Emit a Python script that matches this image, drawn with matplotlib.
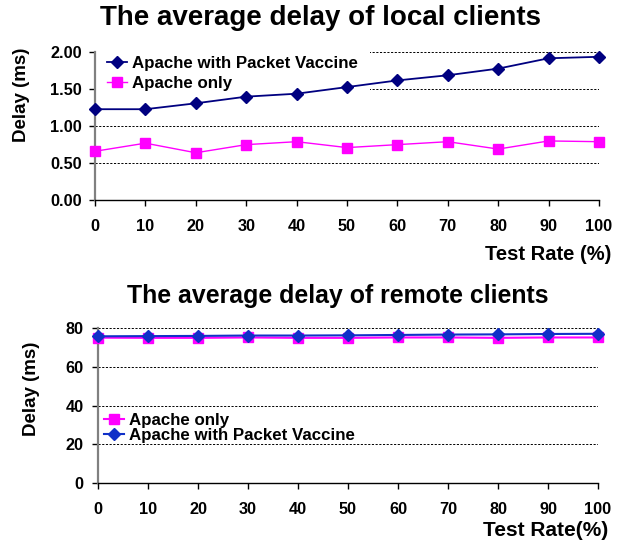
"""Average delay of local and remote clients, Apache vs Apache + Packet Vaccine."""
import matplotlib

matplotlib.use("Agg")
import matplotlib.pyplot as plt  # noqa: E402

plt.rcParams["font.family"] = ["Liberation Sans", "DejaVu Sans"]
plt.rcParams["font.weight"] = "bold"

W, H = 621, 543

test_rate = [0, 10, 20, 30, 40, 50, 60, 70, 80, 90, 100]

local_vaccine = [1.23, 1.23, 1.31, 1.40, 1.44, 1.53, 1.62, 1.69, 1.78, 1.92, 1.94]
local_apache = [0.66, 0.77, 0.64, 0.75, 0.79, 0.71, 0.75, 0.79, 0.69, 0.80, 0.79]
local_ticks = [0.0, 0.5, 1.0, 1.5, 2.0]

remote_vaccine = [75.9, 76.0, 76.1, 76.3, 76.3, 76.4, 76.6, 76.8, 76.9, 77.1, 77.2]
remote_apache = [75.2, 75.1, 75.1, 75.3, 75.1, 75.1, 75.3, 75.3, 75.1, 75.3, 75.3]
remote_ticks = [0, 20, 40, 60, 80]


def fx(px):
    return px / W


def fy(py):
    return 1 - py / H


def style_axes(ax, yticks, ylim_top, xpad, ypad):
    ax.set_xlim(0, 100)
    ax.set_ylim(0, ylim_top)
    ax.set_xticks(test_rate)
    ax.set_yticks(yticks)
    ax.spines["top"].set_visible(False)
    ax.spines["right"].set_visible(False)
    ax.spines["left"].set_color("#808080")
    ax.spines["left"].set_linewidth(1.6)
    ax.spines["bottom"].set_color("black")
    ax.spines["bottom"].set_linewidth(1.0)
    ax.tick_params(axis="x", length=4, width=1, pad=xpad, labelsize=11.7)
    ax.tick_params(axis="y", length=4, width=1, pad=ypad, labelsize=11.7)
    ax.set_axisbelow(True)
    ax.yaxis.grid(True, color="black", linestyle=(0, (2.2, 1.6)), linewidth=0.7)
    for lbl in ax.get_xticklabels() + ax.get_yticklabels():
        lbl.set_fontweight("bold")


fig = plt.figure(figsize=(W / 100, H / 100), dpi=100)

# top: local clients
ax1 = fig.add_axes([fx(95), fy(200), fx(599) - fx(95), fy(52) - fy(200)])
ax1.plot(test_rate, local_vaccine, color="#000080", lw=1.3, marker="D", ms=6,
         label="Apache with Packet Vaccine", clip_on=False, zorder=3)
ax1.plot(test_rate, local_apache, color="#FF00FF", lw=1.0, marker="s", ms=7,
         label="Apache only", clip_on=False, zorder=3)
style_axes(ax1, local_ticks, 2.005, 9.5, 5.5)
ax1.set_yticklabels([f"{v:.2f}" for v in local_ticks])
leg1 = ax1.legend(loc="upper left", bbox_to_anchor=(fx(95), fy(44)),
                  bbox_transform=fig.transFigure, fontsize=12.2, frameon=True,
                  fancybox=False, edgecolor="none", facecolor="white",
                  framealpha=1, borderpad=0.7, borderaxespad=0,
                  handlelength=1.2, handletextpad=0.3, labelspacing=0.3)
leg1.set_zorder(1)

# bottom: remote clients
ax2 = fig.add_axes([fx(98), fy(483), fx(598) - fx(98), fy(328) - fy(483)])
ax2.plot(test_rate, remote_apache, color="#FF00FF", lw=1.5, marker="s", ms=7,
         label="Apache only", clip_on=False, zorder=3)
ax2.plot(test_rate, remote_vaccine, color="#1030C8", lw=1.5, marker="D", ms=6,
         label="Apache with Packet Vaccine", clip_on=False, zorder=3)
style_axes(ax2, remote_ticks, 80.2, 10, 6.5)
ax2.legend(loc="upper left", bbox_to_anchor=(fx(104), fy(413)),
           bbox_transform=fig.transFigure, fontsize=12.2, frameon=False,
           borderpad=0, borderaxespad=0, handlelength=1.2,
           handletextpad=0.3, labelspacing=0.0)

# titles and axis labels
fig.text(fx(320), fy(18), "The average delay of local clients", ha="center",
         va="center", fontsize=20, fontweight="bold")
fig.text(fx(338), fy(296), "The average delay of remote clients", ha="center",
         va="center", fontsize=17.9, fontweight="bold")
fig.text(fx(22), fy(95), "Delay (ms)", rotation=90, ha="center", va="center",
         fontsize=13.5, fontweight="bold")
fig.text(fx(31), fy(389), "Delay (ms)", rotation=90, ha="center", va="center",
         fontsize=13.5, fontweight="bold")
fig.text(fx(611), fy(255), "Test Rate (%)", ha="right", va="center",
         fontsize=14.5, fontweight="bold")
fig.text(fx(608), fy(530), "Test Rate(%)", ha="right", va="center",
         fontsize=15, fontweight="bold")

fig.savefig("out.png", dpi=100)
